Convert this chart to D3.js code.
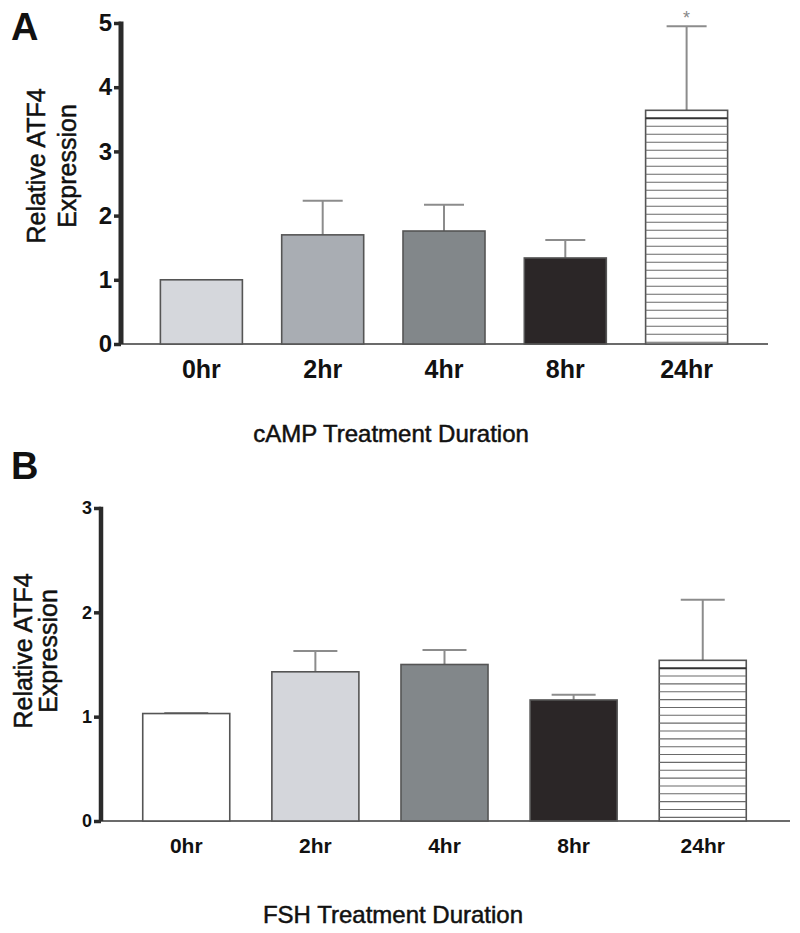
<!DOCTYPE html>
<html>
<head>
<meta charset="utf-8">
<script src="https://cdn.jsdelivr.net/npm/d3@7"></script>
<style>
  html, body { margin: 0; padding: 0; background: #fff; }
  svg { display: block; font-family: "Liberation Sans", Arial, sans-serif; }
</style>
</head>
<body>
<svg id="chart" width="800" height="933"></svg>
<script>
// ---- data ----
const categories = ["0hr", "2hr", "4hr", "8hr", "24hr"];

const campMeans = [1.00, 1.70, 1.76, 1.34, 3.64];
const campSEM   = [0.00, 0.53, 0.41, 0.28, 1.31];
const campTicks = [0, 1, 2, 3, 4, 5];
const campSig   = ["", "", "", "", "*"];

const fshMeans = [1.03, 1.43, 1.50, 1.16, 1.54];
const fshSEM   = [0.005, 0.20, 0.14, 0.05, 0.58];
const fshTicks = [0, 1, 2, 3];

const campFills = ["#d5d7dc", "#a9adb3", "#82878a", "#2b2627", "hatch"];
const fshFills  = ["#ffffff", "#d4d6db", "#82878a", "#2b2627", "hatch"];

const svg = d3.select("#chart");

function panel(opts) {
  const g = svg.append("g");
  const y = d3.scaleLinear().domain(opts.domain).range([opts.y0, opts.y1]);
  const x = d3.scaleBand().domain(categories)
    .range([opts.bandStart, opts.bandEnd])
    .paddingInner(opts.padIn).paddingOuter(opts.padOut);

  // baseline
  g.append("line")
    .attr("x1", opts.axisX).attr("x2", opts.baseEnd)
    .attr("y1", y(0)).attr("y2", y(0))
    .attr("stroke", "#3a3a3a").attr("stroke-width", 1.6);

  const data = categories.map((c, i) => ({c, v: opts.means[i], e: opts.sem[i], f: opts.fills[i], s: opts.sig ? opts.sig[i] : ""}));

  // error bars (upper only)
  data.forEach(d => {
    if (d.e <= 0) return;
    const cx = x(d.c) + x.bandwidth() / 2;
    g.append("line").attr("x1", cx).attr("x2", cx)
      .attr("y1", y(d.v)).attr("y2", y(d.v + d.e))
      .attr("stroke", "#8c8c8c").attr("stroke-width", 2);
    g.append("line").attr("x1", cx - opts.cap).attr("x2", cx + opts.cap)
      .attr("y1", y(d.v + d.e)).attr("y2", y(d.v + d.e))
      .attr("stroke", "#8c8c8c").attr("stroke-width", 2);
  });

  // bars
  g.selectAll("rect.bar").data(data).enter().append("rect")
    .attr("class", "bar")
    .attr("x", d => x(d.c))
    .attr("y", d => y(d.v))
    .attr("width", x.bandwidth())
    .attr("height", d => y(0) - y(d.v))
    .attr("fill", d => d.f === "hatch" ? "#ffffff" : d.f)
    .attr("stroke", "#555")
    .attr("stroke-width", 1.6);

  // hatch lines
  data.filter(d => d.f === "hatch").forEach(d => {
    const top = y(d.v), bot = y(0);
    const lines = d3.range(top + opts.hatch, bot - 1, opts.hatch);
    g.selectAll(null).data(lines).enter().append("line")
      .attr("x1", x(d.c)).attr("x2", x(d.c) + x.bandwidth())
      .attr("y1", v => v).attr("y2", v => v)
      .attr("stroke", (v, i) => i === 0 ? "#333" : "#6a6a6a")
      .attr("stroke-width", (v, i) => i === 0 ? 2 : 1.1);
  });

  // significance marks
  data.forEach(d => {
    if (!d.s) return;
    g.append("text")
      .attr("x", x(d.c) + x.bandwidth() / 2)
      .attr("y", y(d.v + d.e) - 2)
      .attr("text-anchor", "middle")
      .attr("font-size", 18).attr("fill", "#888")
      .text(d.s);
  });

  // y axis
  const ax = g.append("g").attr("transform", `translate(${opts.axisX},0)`)
    .call(d3.axisLeft(y).tickValues(opts.ticks).tickFormat(d3.format("d"))
      .tickSize(opts.tickLen).tickSizeOuter(0).tickPadding(2));
  ax.select(".domain").attr("stroke", "#2a2a2a").attr("stroke-width", opts.axisW)
    .attr("d", `M0,${y(0)}V${y(opts.domain[1]) - opts.axisW / 2 + 1}`);
  ax.selectAll(".tick line").attr("stroke", "#2a2a2a").attr("stroke-width", 3.5);
  ax.selectAll(".tick text").attr("font-size", opts.yTickSize).attr("font-weight", "bold")
    .attr("fill", "#111").attr("font-family", "Liberation Sans, Arial, sans-serif");

  // x tick labels
  g.selectAll("text.xl").data(categories).enter().append("text")
    .attr("class", "xl")
    .attr("x", c => x(c) + x.bandwidth() / 2)
    .attr("y", opts.xLabelY)
    .attr("text-anchor", "middle")
    .attr("font-size", opts.xTickSize).attr("font-weight", "bold").attr("fill", "#111")
    .text(c => c);

  // y label
  opts.yLabel.forEach((t, i) => {
    g.append("text")
      .attr("transform", `translate(${opts.yLabelX[i]},${opts.yLabelY}) rotate(-90)`)
      .attr("text-anchor", "middle")
      .attr("font-size", 25).attr("fill", "#111")
      .attr("stroke", "#111").attr("stroke-width", 0.5)
      .text(t);
  });

  // x title
  g.append("text").attr("x", opts.titleX).attr("y", opts.titleY)
    .attr("text-anchor", "middle").attr("font-size", 24).attr("fill", "#111")
    .attr("stroke", "#111").attr("stroke-width", 0.5)
    .text(opts.title);

  // panel letter
  g.append("text").attr("x", 11).attr("y", opts.letterY)
    .attr("font-size", 38).attr("font-weight", "bold").attr("fill", "#111")
    .text(opts.letter);
}

panel({
  domain: [0, 5], y0: 344, y1: 23, ticks: campTicks,
  bandStart: 124, bandEnd: 764, padIn: 0.324, padOut: 0.3,
  axisX: 121, axisW: 5, baseEnd: 768, tickLen: 7, cap: 20, hatch: 8,
  means: campMeans, sem: campSEM, fills: campFills, sig: campSig,
  yTickSize: 24, xTickSize: 25, xLabelY: 378,
  yLabel: ["Relative ATF4", "Expression"], yLabelX: [45, 76], yLabelY: 166,
  title: "cAMP Treatment Duration", titleX: 391, titleY: 442,
  letter: "A", letterY: 40
});

panel({
  domain: [0, 3], y0: 821, y1: 508, ticks: fshTicks,
  bandStart: 104, bandEnd: 785, padIn: 0.326, padOut: 0.3,
  axisX: 101, axisW: 4.5, baseEnd: 790, tickLen: 7, cap: 22, hatch: 7.85,
  means: fshMeans, sem: fshSEM, fills: fshFills, sig: null,
  yTickSize: 18, xTickSize: 21, xLabelY: 853,
  yLabel: ["Relative ATF4", "Expression"], yLabelX: [32, 57], yLabelY: 651,
  title: "FSH Treatment Duration", titleX: 393, titleY: 923,
  letter: "B", letterY: 479
});
</script>
</body>
</html>
